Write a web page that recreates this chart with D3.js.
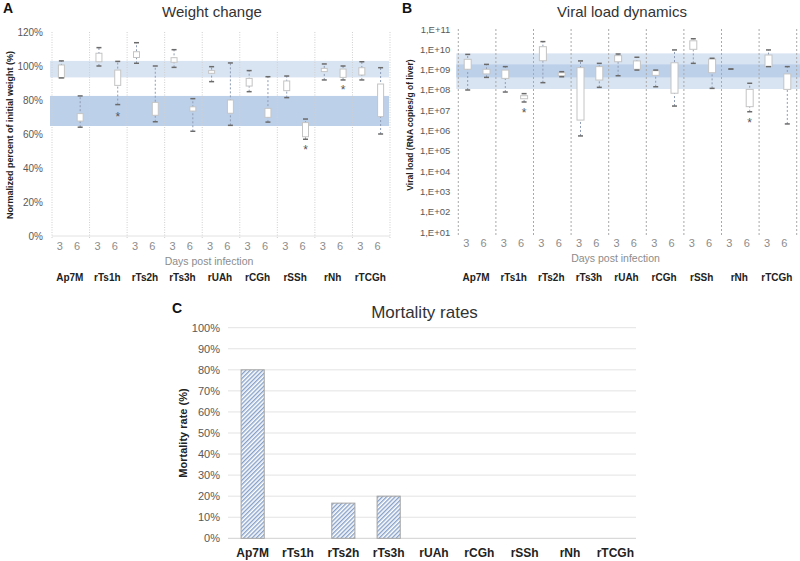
<!DOCTYPE html>
<html>
<head>
<meta charset="utf-8">
<script src="https://cdn.jsdelivr.net/npm/d3@7"></script>
<style>
body { margin: 0; background: #fff; }
svg { font-family: "Liberation Sans", Arial, sans-serif; }
</style>
</head>
<body>
<svg width="800" height="561"></svg>
<script>
// groups and days
var groups = ["Ap7M", "rTs1h", "rTs2h", "rTs3h", "rUAh", "rCGh", "rSSh", "rNh", "rTCGh"];
var days = ["3", "6"];

// weight change (%), [min, q1, q3, max]
var weightDay3 = [
	[93, 93, 100.6, 103], [100, 102.5, 107.5, 110.8], [101.6, 105, 108.4, 113.7],
	[99.2, 102.2, 104.9, 109.6], [90.8, 95.7, 97.3, 99.6], [84.9, 88.2, 92.7, 97.3],
	[81.4, 85.5, 91.2, 94.1], [91.8, 96.7, 98.6, 101.2], [91.8, 94.7, 99, 102.5]
];
var weightDay6 = [
	[64, 67.6, 72, 82.4], [77.3, 88.6, 97.6, 102.7], [67.2, 71, 78.6, 100],
	[61.6, 73.5, 76, 80.8], [65.1, 72.2, 80, 101.8], [67, 69.8, 75.1, 93.7],
	[56.9, 58.4, 66.7, 68.8], [91.8, 93.3, 98.2, 100], [60, 70.2, 89.4, 99]
];
var weightStars = [["rTs1h", 72], ["rSSh", 52.5], ["rNh", 87.8]];
var weightBands = [[93.3, 103], [64.7, 82.4]];
var weightTicks = [0, 20, 40, 60, 80, 100, 120];

// viral load, log10 copies/g, [min, q1, q3, max]
var viralDay3 = [
	[8.0, 9.02, 9.51, 9.75], [7.9, 8.57, 8.98, 9.15], [8.36, 9.44, 10.13, 10.38],
	[5.74, 6.52, 9.1, 9.43], [8.7, 9.39, 9.69, 9.77], [8.16, 8.72, 8.95, 8.98],
	[9.31, 10.0, 10.42, 10.52], [9.03, 9.03, 9.03, 9.03], [9.15, 9.15, 9.72, 9.97]
];
var viralDay6 = [
	[8.62, 8.79, 9.02, 9.26], [7.41, 7.57, 7.72, 7.82], [8.65, 8.7, 8.85, 8.9],
	[8.13, 8.49, 9.15, 9.31], [8.98, 9.02, 9.43, 9.61], [7.21, 7.84, 9.34, 9.97],
	[8.08, 8.85, 9.52, 9.56], [6.93, 7.18, 8.03, 8.33], [6.33, 8.03, 8.79, 9.15]
];
var viralStars = [["rTs1h", 7.03], ["rNh", 6.52]];
var viralBands = [[8.05, 9.8], [8.62, 9.26]];
var viralTicks = [1, 2, 3, 4, 5, 6, 7, 8, 9, 10, 11];

// mortality rates (%)
var mortality = [80, 0, 16.7, 20, 0, 0, 0, 0, 0];
var mortalityTicks = [0, 10, 20, 30, 40, 50, 60, 70, 80, 90, 100];

var svg = d3.select("svg");
var bandColors = ["#d9e4f2", "#bdd0ea"];

// hatch pattern for mortality bars
var pat = svg.append("defs").append("pattern")
	.attr("id", "hatch")
	.attr("patternUnits", "userSpaceOnUse")
	.attr("width", 3).attr("height", 3)
	.attr("patternTransform", "rotate(45)");
pat.append("rect").attr("width", 3).attr("height", 3).attr("fill", "#ffffff");
pat.append("rect").attr("width", 1.4).attr("height", 3).attr("fill", "#86a0c8");

// draws one box panel (A or B)
function boxPanel(o) {
	var g = svg.append("g");
	var x = d3.scaleBand().domain(groups).range(o.xr);
	var xd = d3.scalePoint().domain(days).range([0, x.bandwidth()]).padding(0.5);
	var y = o.y;
	var v = o.val;

	// bands
	g.selectAll(".band").data(o.bands).enter().append("rect")
		.attr("x", o.xr[0] - 2).attr("width", o.xr[1] - o.xr[0] + o.bandExtra)
		.attr("y", function(d) { return y(v(d[1])); })
		.attr("height", function(d) { return y(v(d[0])) - y(v(d[1])); })
		.attr("fill", function(d, i) { return bandColors[i]; });

	// separators
	var seps = groups.map(function(d) { return x(d); }).concat([o.xr[1]]);
	g.selectAll(".sep").data(seps).enter().append("line")
		.attr("x1", function(d) { return d; }).attr("x2", function(d) { return d; })
		.attr("y1", y.range()[1]).attr("y2", o.sepBottom)
		.attr("stroke", o.sepColor).attr("stroke-width", 1)
		.attr("stroke-dasharray", o.sepDash);

	// y axis ticks
	g.selectAll(".ytick").data(o.ticks).enter().append("text")
		.attr("x", o.xr[0] - o.tickGap).attr("y", function(d) { return y(v(d)) + 3.5; })
		.attr("text-anchor", "end").attr("font-size", o.tickSize).attr("fill", "#595959")
		.text(o.tickFmt);

	// boxes
	var series = [[days[0], o.d3], [days[1], o.d6]];
	series.forEach(function(s) {
		var sel = g.selectAll(null).data(s[1]).enter().append("g")
			.attr("transform", function(d, i) { return "translate(" + (x(groups[i]) + xd(s[0])) + ",0)"; });
		sel.append("line")
			.attr("y1", function(d) { return y(v(d[0])); })
			.attr("y2", function(d) { return y(v(d[3])); })
			.attr("stroke", o.whiskColor).attr("stroke-dasharray", "2,2");
		sel.append("rect")
			.attr("x", -o.boxW / 2).attr("width", o.boxW)
			.attr("y", function(d) { return y(v(d[2])); })
			.attr("height", function(d) { return Math.max(0, y(v(d[1])) - y(v(d[2]))); })
			.attr("fill", "#fff").attr("stroke", "#c4c4c4");
		[0, 3].forEach(function(k) {
			sel.append("line")
				.attr("x1", -o.capW / 2).attr("x2", o.capW / 2)
				.attr("y1", function(d) { return y(v(d[k])); })
				.attr("y2", function(d) { return y(v(d[k])); })
				.attr("stroke", "#6b6b6b").attr("stroke-width", 1.5);
		});
	});

	// asterisks
	g.selectAll(".star").data(o.stars).enter().append("text")
		.attr("x", function(d) { return x(d[0]) + xd("6"); })
		.attr("y", function(d) { return y(v(d[1])) + 7; })
		.attr("text-anchor", "middle").attr("font-size", 12).attr("fill", "#555")
		.text("*");

	// day labels
	groups.forEach(function(gr) {
		g.selectAll(null).data(days).enter().append("text")
			.attr("x", function(d, i) { return x(gr) + xd(d) - (i ? 3 : 1.5); })
			.attr("y", o.dayY)
			.attr("text-anchor", "middle").attr("font-size", 11).attr("fill", "#8c8c8c")
			.text(function(d) { return d; });
	});

	g.append("text").attr("x", (o.xr[0] + o.xr[1]) / 2 - 12).attr("y", o.dayY + 15)
		.attr("text-anchor", "middle").attr("font-size", 10.5).attr("fill", "#8c8c8c")
		.text("Days post infection");

	g.selectAll(".grp").data(groups).enter().append("text")
		.attr("x", function(d) { return x(d) + x.bandwidth() / 2 - 1; })
		.attr("y", 281)
		.attr("text-anchor", "middle").attr("font-size", 10).attr("font-weight", "bold")
		.attr("fill", "#222").text(function(d) { return d; });

	// y label
	g.append("text")
		.attr("transform", "translate(" + o.ylabX + "," + o.ylabY + ") rotate(-90)")
		.attr("text-anchor", "middle").attr("font-size", o.ylabSize).attr("font-weight", "bold")
		.attr("fill", "#222").text(o.ylab);

	// title and letter
	g.append("text").attr("x", o.titleX).attr("y", 17).attr("text-anchor", "middle")
		.attr("font-size", 15).attr("fill", "#333").text(o.title);
	g.append("text").attr("x", o.letterX).attr("y", 13).attr("font-size", 14)
		.attr("font-weight", "bold").attr("fill", "#111").text(o.letter);
}

// Panel A
var yA = d3.scaleLinear().domain([0, 120]).range([236, 32]);
svg.append("line").attr("x1", 52).attr("x2", 390).attr("y1", 236).attr("y2", 236)
	.attr("stroke", "#e2e2e2");
boxPanel({
	xr: [52, 390], y: yA, val: function(d) { return d; },
	bands: weightBands, bandExtra: 1, sepBottom: 238, sepColor: "#cfcfcf", sepDash: "1,1.5",
	ticks: weightTicks, tickGap: 9, tickSize: 10, tickFmt: function(d) { return d + "%"; },
	d3: weightDay3, d6: weightDay6, boxW: 6, capW: 5, whiskColor: "#8d9bb3",
	stars: weightStars, dayY: 250,
	ylab: "Normalized percent of initial weight (%)", ylabX: 13, ylabY: 135, ylabSize: 9,
	title: "Weight change", titleX: 212, letter: "A", letterX: 3
});

// Panel B
var yB = d3.scaleLog().domain([1e1, 1e11]).range([232.3, 29]);
boxPanel({
	xr: [458.3, 796.7], y: yB, val: function(d) { return Math.pow(10, d); },
	bands: viralBands, bandExtra: 6, sepBottom: 236, sepColor: "#a9a9a9", sepDash: "2,2",
	ticks: viralTicks, tickGap: 8, tickSize: 9.5,
	tickFmt: function(d) { return "1,E+" + (d < 10 ? "0" + d : d); },
	d3: viralDay3, d6: viralDay6, boxW: 7, capW: 5, whiskColor: "#8d9bb3",
	stars: viralStars, dayY: 247,
	ylab: "Viral load (RNA copies/g of liver)", ylabX: 413, ylabY: 125, ylabSize: 8.5,
	title: "Viral load dynamics", titleX: 622, letter: "B", letterX: 402
});

// Panel C
var xC = d3.scaleBand().domain(groups).range([230, 638]).paddingInner(0.49).paddingOuter(0.245);
var yC = d3.scaleLinear().domain([0, 100]).range([538.3, 327.7]);
var gC = svg.append("g");

gC.selectAll(".grid").data(mortalityTicks).enter().append("line")
	.attr("x1", 228).attr("x2", 636)
	.attr("y1", function(d) { return yC(d); }).attr("y2", function(d) { return yC(d); })
	.attr("stroke", function(d) { return d === 0 ? "#d0d0d0" : "#e3e3e3"; })
	.attr("stroke-width", 1);

gC.selectAll(".yt").data(mortalityTicks).enter().append("text")
	.attr("x", 220).attr("y", function(d) { return yC(d) + 4; })
	.attr("text-anchor", "end").attr("font-size", 11).attr("fill", "#595959")
	.text(function(d) { return d + "%"; });

gC.selectAll(".bar").data(mortality).enter().filter(function(d) { return d > 0; })
	.append("rect")
	.attr("x", function(d) { return xC(groups[mortality.indexOf(d)]); })
	.attr("width", xC.bandwidth())
	.attr("y", function(d) { return yC(d); })
	.attr("height", function(d) { return yC(0) - yC(d); })
	.attr("fill", "url(#hatch)").attr("stroke", "#a3a3a3").attr("stroke-width", 1);

gC.selectAll(".xl").data(groups).enter().append("text")
	.attr("x", function(d) { return xC(d) + xC.bandwidth() / 2; })
	.attr("y", 556.5)
	.attr("text-anchor", "middle").attr("font-size", 12).attr("font-weight", "bold")
	.attr("fill", "#222").text(function(d) { return d; });

gC.append("text")
	.attr("transform", "translate(187," + ((327.7 + 538.3) / 2) + ") rotate(-90)")
	.attr("text-anchor", "middle").attr("font-size", 11).attr("font-weight", "bold")
	.attr("fill", "#222").text("Mortality rate (%)");

gC.append("text").attr("x", 424.5).attr("y", 318).attr("text-anchor", "middle")
	.attr("font-size", 17).attr("fill", "#333").text("Mortality rates");
gC.append("text").attr("x", 172).attr("y", 313).attr("font-size", 14)
	.attr("font-weight", "bold").attr("fill", "#111").text("C");
</script>
</body>
</html>
